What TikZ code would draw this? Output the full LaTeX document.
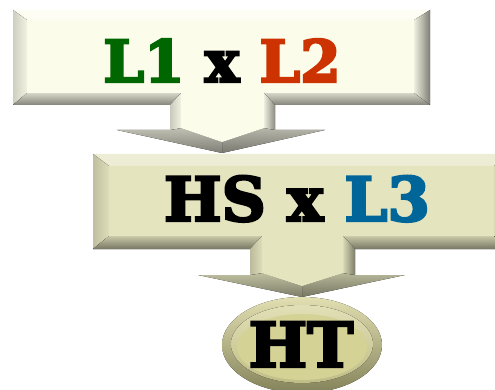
\documentclass[tikz,border=0pt]{standalone}
\usepackage{fontspec}
\setmainfont{DejaVu Serif}[BoldFeatures={FakeBold=4}]
\definecolor{faceA}{HTML}{FCFCEB}
\definecolor{faceB}{HTML}{E4E4BF}
\definecolor{ellTop}{HTML}{E2E0B2}
\definecolor{ellBot}{HTML}{84825A}
\definecolor{ellFace}{HTML}{D5D296}
\definecolor{gL}{HTML}{006600}
\definecolor{rL}{HTML}{CC3300}
\definecolor{bL}{HTML}{006699}
\tikzset{
  lbl/.style={font=\bfseries\fontsize{#1}{#1}\selectfont, inner sep=0pt, anchor=base},
}
\begin{document}
\begin{tikzpicture}[x=1pt,y=-1pt]
\useasboundingbox (0,0) rectangle (495,390);
\clip (0,0) rectangle (495,390);

% ---------- callout 1 ----------
\coordinate (A) at (13,10);   \coordinate (B) at (430,10);
\coordinate (C) at (430,105); \coordinate (D) at (275,105);
\coordinate (E) at (275,130); \coordinate (F) at (325,130);
\coordinate (G) at (222,153); \coordinate (H) at (117,130);
\coordinate (J) at (170,130); \coordinate (K) at (170,105);
\coordinate (L) at (13,105);
\coordinate (a) at (27,20);   \coordinate (b) at (414,20);
\coordinate (c) at (414,93);  \coordinate (d) at (264,93);
\coordinate (e) at (264,128); \coordinate (g) at (222,142);
\coordinate (h) at (181,128); \coordinate (k) at (181,93);
\coordinate (l) at (27,93);
\fill[top color=black!28!faceA, bottom color=black!52!faceA] (E)--(F)--(G)--(g)--(e)--cycle;
\fill[top color=black!24!faceA, bottom color=black!50!faceA] (J)--(H)--(G)--(g)--(h)--cycle;
\fill[color=white!40!faceA] (A)--(B)--(b)--(a)--cycle;
\fill[left color=black!18!faceA, right color=black!4!faceA] (L)--(A)--(a)--(l)--cycle;
\fill[left color=black!5!faceA, right color=black!50!faceA] (B)--(C)--(c)--(b)--cycle;
\fill[top color=black!15!faceA, bottom color=black!48!faceA] (C)--(D)--(d)--(c)--cycle;
\fill[top color=black!15!faceA, bottom color=black!48!faceA] (K)--(L)--(l)--(k)--cycle;
\fill[left color=black!6!faceA, right color=black!45!faceA] (D)--(E)--(e)--(d)--cycle;
\fill[left color=black!20!faceA, right color=black!4!faceA] (J)--(K)--(k)--(h)--cycle;
\fill[faceA] (a)--(b)--(c)--(d)--(e)--(g)--(h)--(k)--(l)--cycle;

% ---------- callout 2 ----------
\coordinate (A2) at (93,154);  \coordinate (B2) at (510,154);
\coordinate (C2) at (510,249); \coordinate (D2) at (355,249);
\coordinate (E2) at (355,275); \coordinate (F2) at (405,275);
\coordinate (G2) at (302,297); \coordinate (H2) at (198,275);
\coordinate (J2) at (250,275); \coordinate (K2) at (250,249);
\coordinate (L2) at (93,249);
\coordinate (a2) at (109,166); \coordinate (b2) at (494,166);
\coordinate (c2) at (494,236); \coordinate (d2) at (343,236);
\coordinate (e2) at (343,273); \coordinate (g2) at (302,286);
\coordinate (h2) at (262,273); \coordinate (k2) at (262,236);
\coordinate (l2) at (109,236);
\fill[top color=black!20!faceB, bottom color=black!48!faceB] (E2)--(F2)--(G2)--(g2)--(e2)--cycle;
\fill[top color=black!16!faceB, bottom color=black!45!faceB] (J2)--(H2)--(G2)--(g2)--(h2)--cycle;
\fill[color=white!35!faceB] (A2)--(B2)--(b2)--(a2)--cycle;
\fill[left color=black!16!faceB, right color=black!3!faceB] (L2)--(A2)--(a2)--(l2)--cycle;
\fill[left color=black!5!faceB, right color=black!48!faceB] (B2)--(C2)--(c2)--(b2)--cycle;
\fill[top color=black!12!faceB, bottom color=black!48!faceB] (C2)--(D2)--(d2)--(c2)--cycle;
\fill[top color=black!12!faceB, bottom color=black!48!faceB] (K2)--(L2)--(l2)--(k2)--cycle;
\fill[left color=black!5!faceB, right color=black!45!faceB] (D2)--(E2)--(e2)--(d2)--cycle;
\fill[left color=black!18!faceB, right color=black!3!faceB] (J2)--(K2)--(k2)--(h2)--cycle;
\fill[faceB] (a2)--(b2)--(c2)--(d2)--(e2)--(g2)--(h2)--(k2)--(l2)--cycle;

% ---------- ellipse ----------
\fill[top color=ellTop, bottom color=ellBot] (302,345) ellipse [x radius=80, y radius=48];
\fill[top color=white!30!ellFace, middle color=ellFace, bottom color=black!10!ellFace] (302,344) ellipse [x radius=71, y radius=39];
\fill[ellFace] (302,347) ellipse [x radius=65, y radius=33];

% ---------- labels ----------
\node[lbl=58] (t1) at (222,82) {\textcolor{gL}{L1} x \textcolor{rL}{L2}};
\node[lbl=61] (t2) at (297,221) {HS x \textcolor{bL}{L3}};
\node[lbl=62] (t3) at (301,367) {HT};
\end{tikzpicture}
\end{document}
